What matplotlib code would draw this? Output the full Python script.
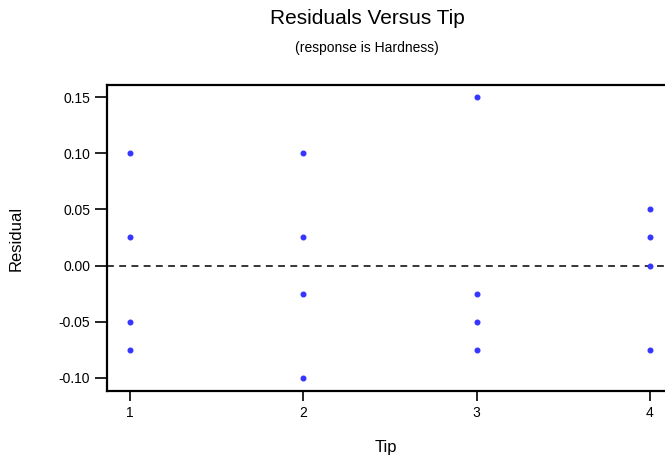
import matplotlib
matplotlib.use("Agg")
import matplotlib.pyplot as plt

plt.rcParams['font.family'] = ['Liberation Sans', 'DejaVu Sans']

# Residuals grouped by tip
tips = [1, 1, 1, 1, 2, 2, 2, 2, 3, 3, 3, 3, 4, 4, 4, 4]
residuals = [0.100, 0.025, -0.050, -0.075,
             0.100, 0.025, -0.025, -0.100,
             0.150, -0.025, -0.050, -0.075,
             0.050, 0.025, 0.000, -0.075]
x_ticks = [1, 2, 3, 4]
y_ticks = [-0.10, -0.05, 0.00, 0.05, 0.10, 0.15]

fig = plt.figure(figsize=(6.65, 4.58), dpi=100)
W, H = 665, 458
left, right, top, bottom = 107, 665, 85, 391
ax = fig.add_axes([left / W, 1 - bottom / H, (right - left) / W, (bottom - top) / H])

ax.axhline(0, color='black', lw=1.1, ls=(0, (4.5, 3.5)), zorder=1)
ax.plot(tips, residuals, ls='none', marker='o', ms=3.3, color='#3535ff',
        mec='#3535ff', zorder=3, clip_on=False)

ax.set_xlim(0.867, 4.087)
ax.set_ylim(-0.1119, 0.161)
ax.set_xticks(x_ticks)
ax.set_xticklabels([str(t) for t in x_ticks])
ax.set_yticks(y_ticks)
ax.set_yticklabels([f"{v:.2f}" for v in y_ticks])

for s in ['left', 'bottom', 'top']:
    ax.spines[s].set_linewidth(1.6)
ax.spines['right'].set_visible(False)
ax.tick_params(axis='y', direction='out', length=8.6, width=1.2, labelsize=10, pad=3.5)
ax.tick_params(axis='x', direction='out', length=7.5, width=1.2, labelsize=10, pad=3.5)

ax.set_xlabel('Tip', fontsize=12, labelpad=14)
ax.set_ylabel('Residual', fontsize=12, labelpad=25)

fig.text(367 / W, 1 - 18 / H, 'Residuals Versus Tip', ha='center', va='center', fontsize=15)
fig.text(367 / W, 1 - 48 / H, '(response is Hardness)', ha='center', va='center', fontsize=10)

fig.savefig('out.png', dpi=100)
